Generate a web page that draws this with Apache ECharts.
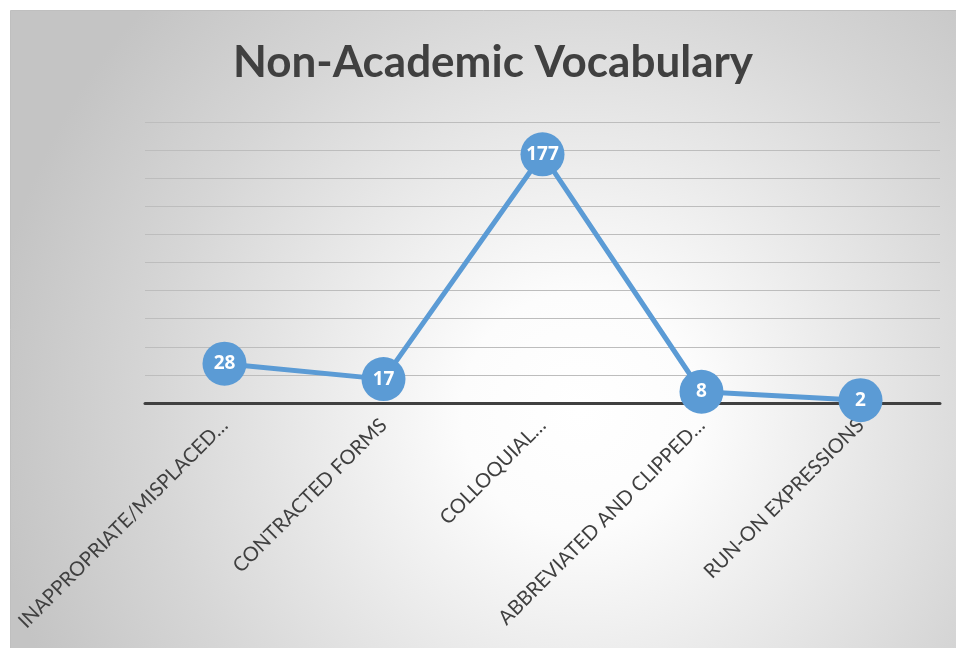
<!DOCTYPE html>
<html><head><meta charset="utf-8">
<script src="https://cdn.jsdelivr.net/npm/echarts@6/dist/echarts.min.js"></script>
<style>html,body{margin:0;padding:0;background:#fff}#c{width:956px;height:648px}</style>
</head><body><div id="c"></div>
<script>
const titleText = 'Non-Academic Vocabulary';
const categories = ['INAPPROPRIATE/MISPLACED…', 'CONTRACTED FORMS', 'COLLOQUIAL…', 'ABBREVIATED AND CLIPPED…', 'RUN-ON EXPRESSIONS'];
const values = [28, 17, 177, 8, 2];
const yMin = 0, yMax = 200, yInterval = 20;

const chart = echarts.init(document.getElementById('c'), null, {renderer: 'canvas'});
chart.setOption({
  backgroundColor: '#ffffff',
  animation: false,
  graphic: [{
    type: 'rect', z: -10, silent: true,
    shape: {x: 10.5, y: 10.5, width: 950, height: 645},
    style: {
      fill: {type: 'radial', x: 0.6, y: 0.62, r: 0.92,
        colorStops: [{offset: 0, color: '#ffffff'}, {offset: 0.2, color: '#fcfcfc'}, {offset: 0.72, color: '#d6d6d6'}, {offset: 1, color: '#c4c4c4'}]},
      stroke: '#bfbfbf', lineWidth: 1
    }
  }],
  title: {
    text: titleText, left: 488, top: 36, textAlign: 'center',
    textStyle: {fontFamily: 'Lato', fontWeight: 'bold', fontSize: 44, color: '#404040'}
  },
  grid: {left: 145, right: 16, top: 122, bottom: 245, containLabel: false},
  xAxis: {
    type: 'category', data: categories, boundaryGap: true,
    axisLine: {show: true, lineStyle: {color: '#404040', width: 3}},
    axisTick: {show: false},
    axisLabel: {rotate: 45, interval: 0, margin: 19, color: '#404040', fontFamily: 'Lato', fontSize: 20}
  },
  yAxis: {
    type: 'value', min: yMin, max: yMax, interval: yInterval,
    axisLine: {show: false}, axisTick: {show: false}, axisLabel: {show: false},
    splitLine: {lineStyle: {color: '#bdbdbd', width: 1.2}}
  },
  series: [{
    type: 'line', data: values,
    lineStyle: {color: '#5b9bd5', width: 5},
    itemStyle: {color: '#5b9bd5'},
    symbol: 'circle', symbolSize: 44,
    label: {show: true, position: 'inside', color: '#ffffff', fontWeight: 'bold', fontSize: 19, fontFamily: 'Open Sans'}
  }]
});
</script></body></html>
